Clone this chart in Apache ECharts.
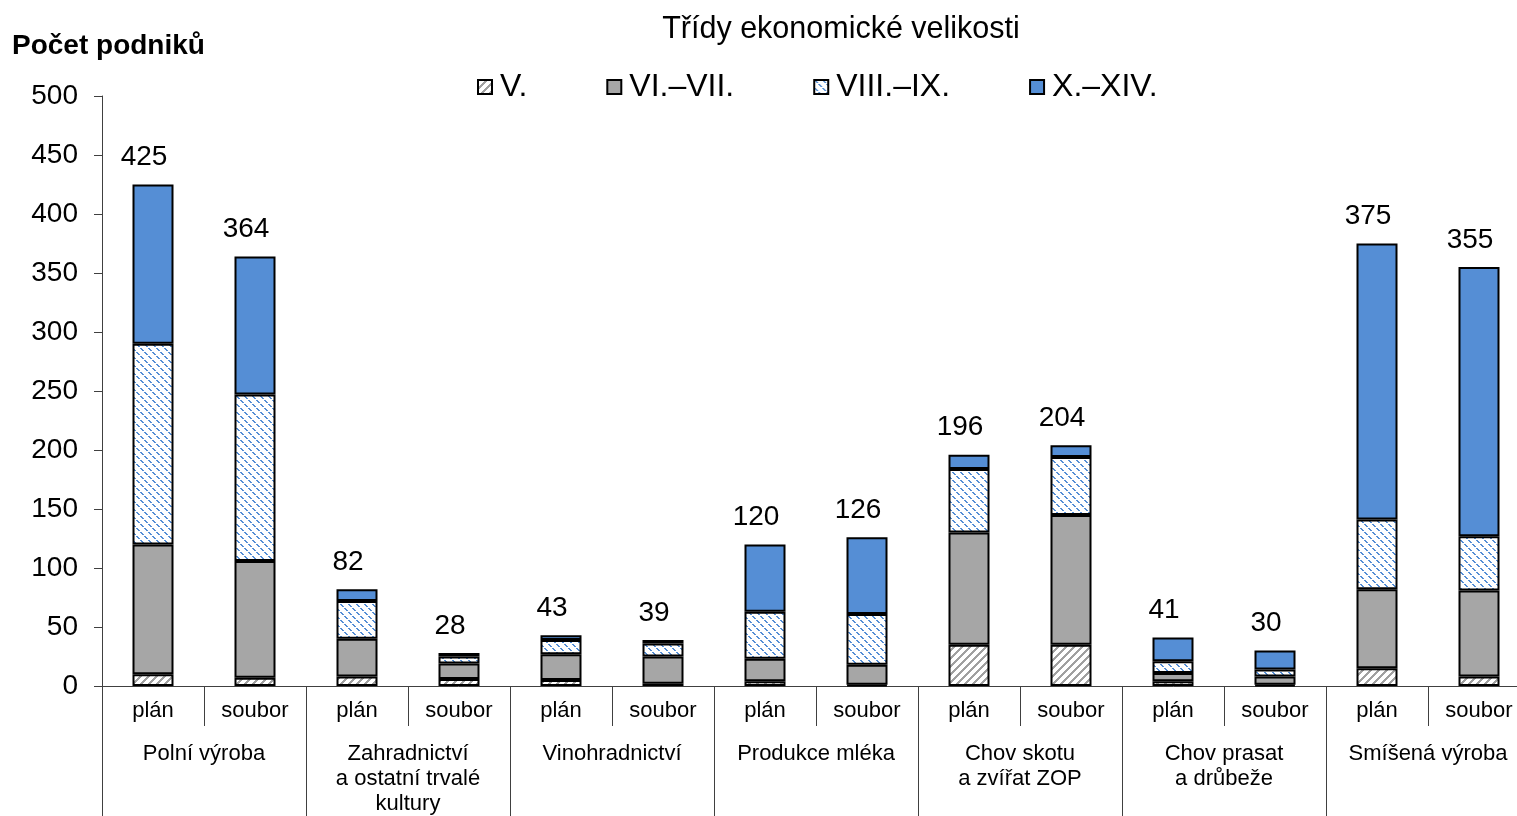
<!DOCTYPE html>
<html>
<head>
<meta charset="utf-8">
<script src="https://cdn.jsdelivr.net/npm/echarts@6/dist/echarts.min.js"></script>
<style>
  html, body { margin: 0; padding: 0; background: #fff; overflow: hidden; }
  #chart { width: 1531px; height: 816px; }
</style>
</head>
<body>
<div id="chart"></div>
<script>
var categories = ['plán','soubor','plán','soubor','plán','soubor','plán','soubor','plán','soubor','plán','soubor','plán','soubor'];
var groups = ['Polní výroba', 'Zahradnictví\na ostatní trvalé\nkultury', 'Vinohradnictví', 'Produkce mléka',
              'Chov skotu\na zvířat ZOP', 'Chov prasat\na drůbeže', 'Smíšená výroba'];
var classV     = [10, 7, 8, 6, 5, 2, 4, 1, 35, 35, 4, 1, 15, 8];
var classVIVII = [110, 99, 32, 13, 22, 23, 19, 17, 95, 110, 7, 7, 67, 73];
var classVIIIIX= [170, 141, 32, 6, 12, 11, 40, 43, 54, 49, 10, 6, 59, 46];
var classXXIV  = [135, 117, 10, 3, 4, 3, 57, 65, 12, 10, 20, 16, 234, 228];
var totals     = [425, 364, 82, 28, 43, 39, 120, 126, 196, 204, 41, 30, 375, 355];
var seriesNames = ['V.', 'VI.–VII.', 'VIII.–IX.', 'X.–XIV.'];

var font = 'Arial, "Liberation Sans", sans-serif';
var blue = '#558ed5';
var gray = '#a6a6a6';

// hatched fills
function hatch(fg, dotted, forward) {
  var n = 8;
  var c = document.createElement('canvas');
  c.width = n; c.height = n;
  var ctx = c.getContext('2d');
  ctx.fillStyle = '#fff';
  ctx.fillRect(0, 0, n, n);
  ctx.fillStyle = fg;
  for (var k = 0; k < n; k++) {
    if (dotted && k % 4 === 3) continue;
    var x = forward ? (n - 1 - k) : k;
    ctx.fillRect(x, k, 1, 1);
    ctx.fillRect((x + 1) % n, k, 1, 1);
    if (!dotted) ctx.fillRect((x + 2) % n, k, 1, 1);
  }
  return { image: c, repeat: 'repeat' };
}

var fills = [hatch('#a0a0a0', false, true), gray, hatch(blue, true, false), blue];
var values = [classV, classVIVII, classVIIIIX, classXXIV];

var series = seriesNames.map(function (name, i) {
  var s = {
    name: name,
    type: 'bar',
    stack: 'total',
    barWidth: 41,
    data: values[i],
    itemStyle: { color: fills[i], borderColor: '#000', borderWidth: 2 }
  };
  if (i === 3) {
    s.label = {
      show: true, position: 'top', distance: 13, offset: [-9, 0],
      color: '#000', fontSize: 28, fontFamily: font,
      formatter: function (p) { return totals[p.dataIndex]; }
    };
  }
  return s;
});

var myChart = echarts.init(document.getElementById('chart'));
var option = {
  animation: false,
  title: [
    { text: 'Třídy ekonomické velikosti', left: 836, top: 9, textAlign: 'center',
      textStyle: { fontSize: 30.5, fontWeight: 'normal', color: '#000', fontFamily: font } },
    { text: 'Počet podniků', left: 12, top: 32, padding: 0,
      textStyle: { fontSize: 28, fontWeight: 'bold', color: '#000', fontFamily: font } }
  ],
  legend: {
    data: seriesNames,
    left: 472, top: 66,
    icon: 'rect',
    itemWidth: 14, itemHeight: 14,
    itemGap: 79,
    textStyle: { fontSize: 32, color: '#000', fontFamily: font, padding: [0, 0, 0, 3] }
  },
  grid: { left: 102, top: 96, right: 1, height: 590 },
  xAxis: [
    {
      type: 'category',
      data: categories,
      axisLine: { lineStyle: { color: '#404040', width: 1 } },
      axisTick: { show: true, length: 40, interval: 0, lineStyle: { color: '#404040' } },
      axisLabel: { interval: 0, margin: 14, fontSize: 22, color: '#000', fontFamily: font }
    },
    {
      type: 'category',
      data: groups,
      position: 'bottom',
      axisLine: { show: false },
      axisTick: { show: true, length: 140, interval: 0, lineStyle: { color: '#404040' } },
      axisLabel: { interval: 0, margin: 55, fontSize: 22, lineHeight: 25, color: '#000', fontFamily: font }
    }
  ],
  yAxis: {
    type: 'value',
    min: 0, max: 500, interval: 50,
    splitLine: { show: false },
    axisLine: { show: true, lineStyle: { color: '#404040', width: 1 } },
    axisTick: { show: true, length: 8, lineStyle: { color: '#404040' } },
    axisLabel: { fontSize: 28, color: '#000', fontFamily: font, margin: 24 }
  },
  series: series
};
myChart.setOption(option);
</script>
</body>
</html>
